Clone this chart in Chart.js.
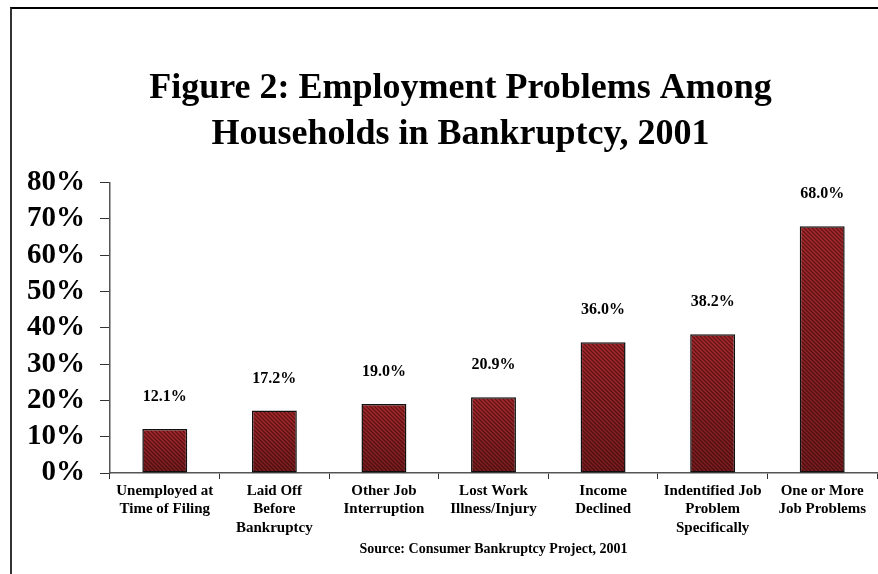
<!DOCTYPE html>
<html lang="en">

<head>
    <meta charset="UTF-8">
    <title>Employment Problems Among Households in Bankruptcy, 2001</title>
    <script src="https://cdn.jsdelivr.net/npm/chart.js"></script>
    <style>
        html, body {
            margin: 0;
            padding: 0;
            background: #fff;
        }
        #wrap {
            position: relative;
            width: 878px;
            height: 574px;
        }
        #frame {
            position: absolute;
            left: 10px;
            top: 7px;
            right: 0;
            bottom: 0;
            border-top: 2px solid #000;
            border-left: 2px solid #333;
            pointer-events: none;
        }
    </style>
</head>

<body>
    <div id="wrap">
        <canvas id="myChart" width="878" height="574"></canvas>
        <div id="frame"></div>
    </div>
    <script>
        const categories = [
            ['Unemployed at', 'Time of Filing'],
            ['Laid Off', 'Before', 'Bankruptcy'],
            ['Other Job', 'Interruption'],
            ['Lost Work', 'Illness/Injury'],
            ['Income', 'Declined'],
            ['Indentified Job', 'Problem', 'Specifically'],
            ['One or More', 'Job Problems']
        ];
        const shares = [12.1, 17.2, 19.0, 20.9, 36.0, 38.2, 68.0];
        const yTicks = [0, 10, 20, 30, 40, 50, 60, 70, 80];
        const titleLines = ['Figure 2: Employment Problems Among', 'Households in Bankruptcy, 2001'];
        const sourceNote = 'Source: Consumer Bankruptcy Project, 2001';

        const serif = '"Liberation Serif", "Times New Roman", serif';

        // diagonal hatch used as the bar fill
        const makeHatch = () => {
            const tile = document.createElement('canvas');
            tile.width = 4;
            tile.height = 4;
            const t = tile.getContext('2d');
            t.fillStyle = '#a82a2e';
            t.fillRect(0, 0, 4, 4);
            t.strokeStyle = '#641416';
            t.lineWidth = 1.3;
            t.beginPath();
            t.moveTo(-1, -1); t.lineTo(5, 5);
            t.moveTo(-1, 3); t.lineTo(1, 5);
            t.moveTo(3, -1); t.lineTo(5, 1);
            t.stroke();
            return t.createPattern(tile, 'repeat');
        };

        // darker shading toward the bottom of every bar
        const barShade = {
            id: 'barShade',
            afterDatasetDraw(chart) {
                const ctx = chart.ctx;
                const meta = chart.getDatasetMeta(0);
                meta.data.forEach(bar => {
                    const p = bar.getProps(['x', 'y', 'base', 'width'], true);
                    const g = ctx.createLinearGradient(0, p.y, 0, p.base);
                    g.addColorStop(0, 'rgba(0,0,0,0)');
                    g.addColorStop(1, 'rgba(20,0,0,0.3)');
                    ctx.save();
                    ctx.fillStyle = g;
                    ctx.fillRect(p.x - p.width / 2 + 1, p.y + 1, p.width - 2, p.base - p.y - 1);
                    ctx.restore();
                });
            }
        };

        const valueLabels = {
            id: 'valueLabels',
            afterDatasetsDraw(chart) {
                const ctx = chart.ctx;
                const meta = chart.getDatasetMeta(0);
                ctx.save();
                ctx.font = 'bold 16px ' + serif;
                ctx.fillStyle = '#000';
                ctx.textAlign = 'center';
                ctx.textBaseline = 'middle';
                meta.data.forEach((bar, i) => {
                    ctx.fillText(shares[i].toFixed(1) + '%', bar.x, bar.y - 32);
                });
                ctx.restore();
            }
        };

        // the title in the original is centred a bit right of the page centre
        const titleShift = {
            id: 'titleShift',
            afterLayout(chart) {
                if (chart.titleBlock) {
                    chart.titleBlock.left = 44;
                }
            }
        };

        const ctx = document.getElementById('myChart').getContext('2d');

        new Chart(ctx, {
            type: 'bar',
            data: {
                labels: categories,
                datasets: [{
                    data: shares,
                    backgroundColor: makeHatch(),
                    borderColor: '#111',
                    borderWidth: 1.5,
                    borderSkipped: false,
                    categoryPercentage: 1,
                    barPercentage: 0.41
                }]
            },
            options: {
                responsive: false,
                animation: false,
                events: [],
                layout: {
                    padding: { left: 10, right: 1, top: 0, bottom: 0 }
                },
                plugins: {
                    legend: { display: false },
                    tooltip: { enabled: false },
                    title: {
                        display: true,
                        text: titleLines,
                        color: '#000',
                        font: { family: serif, size: 36, weight: 'bold', lineHeight: 1.3 },
                        padding: { top: 65, bottom: 24 }
                    }
                },
                scales: {
                    x: {
                        offset: true,
                        afterFit(scale) { scale.height = 101; },
                        grid: {
                            offset: true,
                            drawOnChartArea: false,
                            drawTicks: true,
                            tickLength: 6,
                            color: '#333'
                        },
                        border: { display: true, color: '#555', width: 1.5 },
                        ticks: {
                            color: '#000',
                            maxRotation: 0,
                            autoSkip: false,
                            padding: 3,
                            font: { family: serif, size: 15, weight: 'bold', lineHeight: 1.22 }
                        },
                        title: {
                            display: true,
                            text: sourceNote,
                            color: '#000',
                            font: { family: serif, size: 14, weight: 'bold', lineHeight: 1.2 },
                            padding: { top: 2, bottom: 16 }
                        }
                    },
                    y: {
                        min: 0,
                        max: 80,
                        afterFit(scale) { scale.width = 100; },
                        afterBuildTicks(scale) {
                            scale.ticks = yTicks.map(v => ({ value: v }));
                        },
                        grid: {
                            drawOnChartArea: false,
                            drawTicks: true,
                            tickLength: 10,
                            color: '#333'
                        },
                        border: { display: true, color: '#555', width: 1.5 },
                        ticks: {
                            color: '#000',
                            padding: 15,
                            autoSkip: false,
                            font: { family: serif, size: 29, weight: 'bold' },
                            callback: v => v + '%'
                        }
                    }
                }
            },
            plugins: [barShade, valueLabels, titleShift]
        });
    </script>
</body>

</html>
